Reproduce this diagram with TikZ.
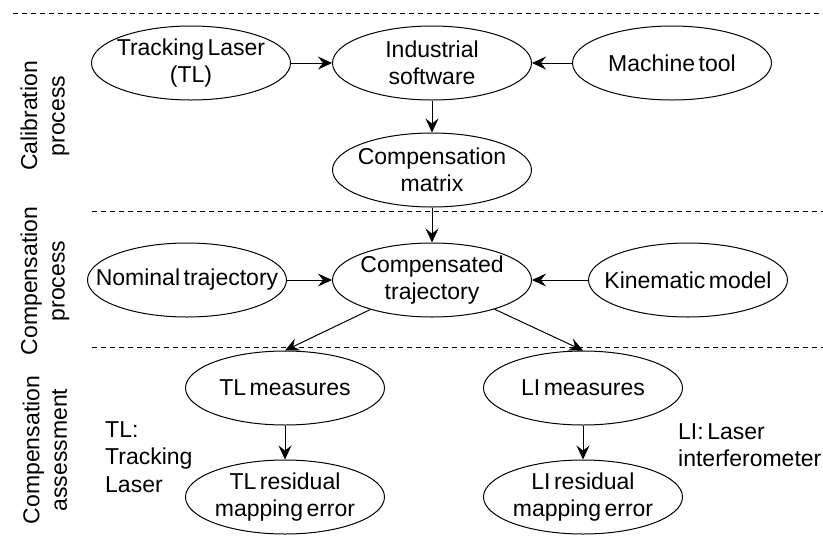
\documentclass[tikz,border=0pt]{standalone}
\usepackage{fontspec}
\setmainfont{Liberation Sans}[WordSpace=0.55]
\usetikzlibrary{shapes.geometric,arrows.meta}
\begin{document}
\begin{tikzpicture}[x=1pt,y=-1pt,
  font=\fontsize{23}{27.5}\selectfont,
  ell/.style={ellipse, draw, line width=1pt, minimum width=199pt, minimum height=74pt,
    inner xsep=-40pt, inner ysep=0pt, align=center},
  arr/.style={-{Stealth[length=14pt,width=13pt,inset=5pt]}, line width=1pt},
  sep/.style={dash pattern=on 5pt off 4pt, line width=0.8pt},
  side/.style={rotate=90, align=center, inner sep=0pt},
  note/.style={align=left, anchor=west, inner sep=0pt}]
\useasboundingbox (0,0) rectangle (823,542);
% separators
\coordinate (d1a) at (13,13);  \coordinate (d1b) at (823,13);
\coordinate (d2a) at (92,211); \coordinate (d2b) at (823,211);
\coordinate (d3a) at (92,347); \coordinate (d3b) at (823,347);
\draw[sep] (d1a) -- (d1b);
\draw[sep] (d2a) -- (d2b);
\draw[sep] (d3a) -- (d3b);
% side labels
\node[side] (cal) at (45,116) {Calibration\\process};
\node[side] (cpp) at (45,281) {Compensation\\process};
\node[side] (cas) at (45,450) {Compensation\\assessment};
% nodes
\node[ell] (tl)  at (191,63)  {Tracking Laser\\(TL)};
\node[ell] (is)  at (432,63)  {Industrial\\software};
\node[ell] (mt)  at (672,63)  {Machine tool};
\node[ell] (cm)  at (432,170) {Compensation\\matrix};
\node[ell] (nt)  at (187,280) {Nominal trajectory};
\node[ell] (ct)  at (432,280) {Compensated\\trajectory};
\node[ell] (km)  at (688,280) {Kinematic model};
\node[ell] (tlm) at (285,388) {TL measures};
\node[ell] (tlr) at (285,497) {TL residual\\mapping error};
\node[ell] (lim) at (583,388) {LI measures};
\node[ell] (lir) at (583,497) {LI residual\\mapping error};
% notes
\node[note] (tln) at (105,457) {TL:\\Tracking\\Laser};
\node[note] (lin) at (678,445) {LI: Laser\\interferometer};
% arrows
\draw[arr] (tl) -- (is);
\draw[arr] (mt) -- (is);
\draw[arr] (is) -- (cm);
\draw[arr] (cm) -- (ct);
\draw[arr] (nt) -- (ct);
\draw[arr] (km) -- (ct);
\draw[arr] (ct) -- (tlm.north);
\draw[arr] (ct) -- (lim.north);
\draw[arr] (tlm) -- (tlr);
\draw[arr] (lim) -- (lir);
\end{tikzpicture}
\end{document}
